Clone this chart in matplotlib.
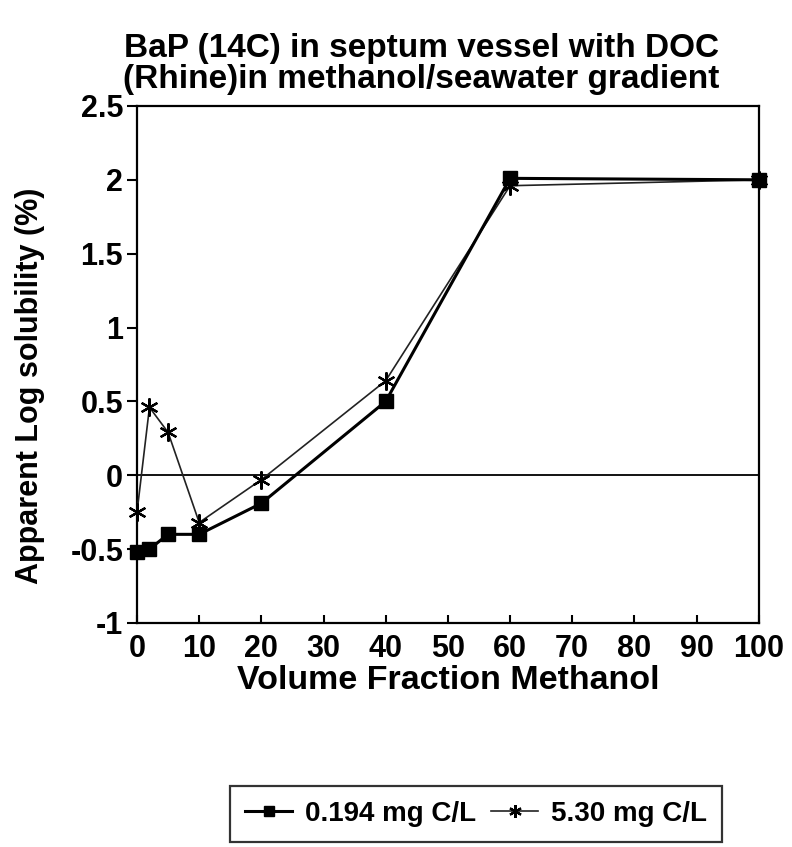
import numpy as np
import matplotlib
matplotlib.use("Agg")
import matplotlib.pyplot as plt

plt.rcParams['font.family'] = ['Liberation Sans', 'DejaVu Sans']
plt.rcParams['font.weight'] = 'bold'

# data
volume_fraction = [0, 2, 5, 10, 20, 40, 60, 100]
doc_low = [-0.52, -0.50, -0.40, -0.40, -0.19, 0.50, 2.01, 2.00]
doc_high = [-0.25, 0.46, 0.29, -0.32, -0.03, 0.64, 1.96, 2.00]
series_names = ['0.194 mg C/L', '5.30 mg C/L']

fig = plt.figure(figsize=(7.92, 8.47), dpi=100)
ax = fig.add_axes([0.173, 0.2645, 0.785, 0.6104])

ax.axhline(0, color='k', lw=1.3)
l1, = ax.plot(volume_fraction, doc_low, color='k', lw=2.2, marker='s', ms=10,
              label=series_names[0], clip_on=False, zorder=4)
l2, = ax.plot(volume_fraction, doc_high, color='#222222', lw=1.2, marker=(6, 2, 0),
              ms=13, mew=1.6, mec='k', label=series_names[1], clip_on=False, zorder=3)

ax.set_xlim(0, 100)
ax.set_ylim(-1, 2.5)
ax.set_xticks(np.arange(0, 101, 10))
ax.set_yticks([-1, -0.5, 0, 0.5, 1, 1.5, 2, 2.5])
ax.set_yticklabels(['-1', '-0.5', '0', '0.5', '1', '1.5', '2', '2.5'])
ax.tick_params(axis='x', labelsize=22, width=1.5, length=6, direction='in', pad=8)
ax.tick_params(axis='y', labelsize=22, width=1.5, length=7, direction='out', pad=3)
for sp in ax.spines.values():
    sp.set_linewidth(1.6)

ax.set_xlabel('Volume Fraction Methanol', fontsize=24.5, fontweight='bold', labelpad=1)
fig.text(0.038, 0.545, 'Apparent Log solubility (%)', fontsize=22, fontweight='bold',
         rotation=90, ha='center', va='center')
fig.text(0.532, 0.925, 'BaP (14C) in septum vessel with DOC\n(Rhine)in methanol/seawater gradient',
         fontsize=24, fontweight='bold', ha='center', va='center', linespacing=1.0)

leg = fig.legend(handles=[l1, l2], loc='center', bbox_to_anchor=(0.601, 0.039),
                 ncol=2, fontsize=20, frameon=True, fancybox=False,
                 edgecolor='k', handlelength=1.7, handletextpad=0.45,
                 columnspacing=0.55, borderpad=0.55, borderaxespad=0,
                 markerscale=0.7)
leg.get_frame().set_linewidth(1.6)

fig.savefig('out.png', dpi=100)
